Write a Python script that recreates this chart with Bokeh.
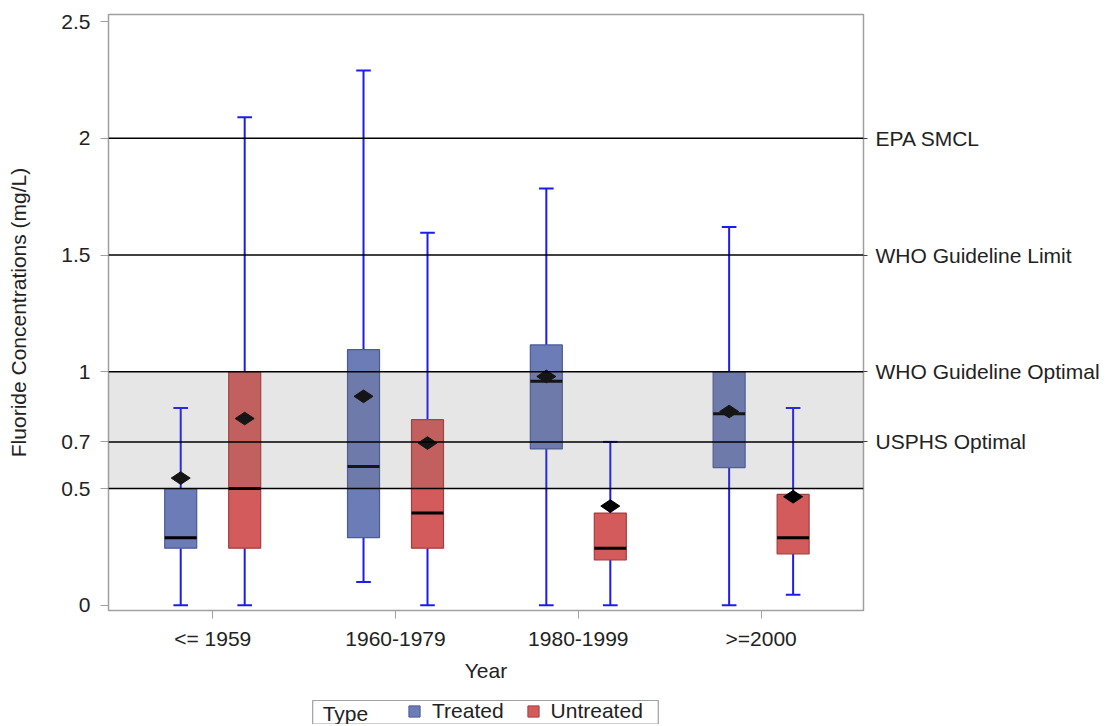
from bokeh.plotting import figure
from bokeh.layouts import column
from bokeh.models import (FixedTicker, LinearAxis, Range1d, Span, BoxAnnotation,
                          Legend, LegendItem)
from bokeh.core.properties import value
from bokeh.embed import file_html
from bokeh.resources import INLINE

categories = ["<= 1959", "1960-1979", "1980-1999", ">=2000"]

treated_min = [0.0, 0.10, 0.0, 0.0]
treated_q1 = [0.245, 0.29, 0.67, 0.59]
treated_median = [0.29, 0.595, 0.96, 0.82]
treated_q3 = [0.50, 1.095, 1.115, 1.0]
treated_max = [0.845, 2.29, 1.785, 1.62]
treated_mean = [0.545, 0.895, 0.98, 0.83]

untreated_min = [0.0, 0.0, 0.0, 0.045]
untreated_q1 = [0.245, 0.245, 0.195, 0.22]
untreated_median = [0.50, 0.395, 0.245, 0.29]
untreated_q3 = [1.0, 0.795, 0.395, 0.475]
untreated_max = [2.09, 1.595, 0.70, 0.845]
untreated_mean = [0.80, 0.695, 0.425, 0.465]

ref_values = [2.0, 1.5, 1.0, 0.7]
ref_labels = ["EPA SMCL", "WHO Guideline Limit", "WHO Guideline Optimal", "USPHS Optimal"]
y_ticks = [0, 0.5, 0.7, 1, 1.5, 2, 2.5]
y_tick_labels = ["0", "0.5", "0.7", "1", "1.5", "2", "2.5"]
legend_title = "Type"
legend_labels = ["Treated", "Untreated"]

FONT = "Liberation Sans"
FS = "21px"
OFFSET = 0.175
BOX_W = 0.175
CAP_W = 0.08
TREATED_FILL, TREATED_EDGE = "#6c7cb6", "#4a5a98"
UNTREATED_FILL, UNTREATED_EDGE = "#d45b5b", "#a53d3d"

p = figure(frame_width=755, frame_height=596, min_border_left=108, min_border_top=14,
           min_border_right=240, min_border_bottom=78,
           x_range=Range1d(-0.57, 3.56), y_range=Range1d(-0.022, 2.53),
           output_backend="svg", toolbar_location=None, tools="")
p.background_fill_color = "white"
p.border_fill_color = "white"
p.outline_line_color = "#a0a0a0"
p.outline_line_width = 1.5
p.xgrid.visible = False
p.ygrid.visible = False

# axes
xa = p.xaxis[0]
xa.ticker = FixedTicker(ticks=list(range(len(categories))))
xa.major_label_overrides = {i: c for i, c in enumerate(categories)}
xa.axis_label = "Year"
ya = p.yaxis[0]
ya.ticker = FixedTicker(ticks=y_ticks)
ya.major_label_overrides = {t: l for t, l in zip(y_ticks, y_tick_labels)}
ya.axis_label = "Fluoride Concentrations (mg/L)"
for ax in (xa, ya):
    ax.axis_line_color = "#a0a0a0"
    ax.major_tick_line_color = "#a0a0a0"
    ax.major_tick_in = 0
    ax.major_tick_out = 8
    ax.minor_tick_line_color = None
    ax.major_label_text_font = FONT
    ax.major_label_text_font_size = FS
    ax.major_label_text_color = "#222222"
    ax.axis_label_text_font = FONT
    ax.axis_label_text_font_size = FS
    ax.axis_label_text_font_style = "normal"
    ax.axis_label_text_color = "#222222"
xa.major_label_standoff = 8
xa.axis_label_standoff = 6
ya.major_label_standoff = 10
ya.axis_label_standoff = 28

ra = LinearAxis(ticker=FixedTicker(ticks=ref_values),
                major_label_overrides={v: l for v, l in zip(ref_values, ref_labels)})
ra.axis_line_color = None
ra.major_tick_line_color = "#404040"
ra.major_tick_in = 0
ra.major_tick_out = 4
ra.minor_tick_line_color = None
ra.major_label_standoff = 8
ra.major_label_text_font = FONT
ra.major_label_text_font_size = FS
ra.major_label_text_color = "#222222"
p.add_layout(ra, "right")

# boxes
tx = [i - OFFSET for i in range(len(categories))]
ux = [i + OFFSET for i in range(len(categories))]

series = [
    (tx, treated_min, treated_q1, treated_median, treated_q3, treated_max, treated_mean,
     TREATED_FILL, TREATED_EDGE),
    (ux, untreated_min, untreated_q1, untreated_median, untreated_q3, untreated_max, untreated_mean,
     UNTREATED_FILL, UNTREATED_EDGE),
]
for xs, mn, q1, med, q3, mx, mean, fill, edge in series:
    p.segment(x0=xs, x1=xs, y0=q3, y1=mx, line_color="#1c1cf0", line_width=2)
    p.segment(x0=xs, x1=xs, y0=mn, y1=q1, line_color="#1c1cf0", line_width=2)
    p.segment(x0=[x - CAP_W / 2 for x in xs], x1=[x + CAP_W / 2 for x in xs], y0=mx, y1=mx,
              line_color="#1c1cf0", line_width=2)
    p.segment(x0=[x - CAP_W / 2 for x in xs], x1=[x + CAP_W / 2 for x in xs], y0=mn, y1=mn,
              line_color="#1c1cf0", line_width=2)
    p.vbar(x=xs, width=BOX_W, bottom=q1, top=q3, fill_color=fill, line_color=edge,
           line_width=1.2)
    p.segment(x0=[x - BOX_W / 2 for x in xs], x1=[x + BOX_W / 2 for x in xs], y0=med, y1=med,
              line_color="black", line_width=3)
    p.scatter(x=xs, y=mean, marker="diamond", angle=1.5708, size=19, fill_color="black",
              line_color="black")

band = BoxAnnotation(bottom=0.5, top=1.0, fill_color="#767676", fill_alpha=0.18,
                     line_alpha=0, level="annotation")
p.add_layout(band)
for v in [0.5, 0.7, 1.0, 1.5, 2.0]:
    p.add_layout(Span(location=v, dimension="width", line_color="black", line_width=1.5))

# legend strip below the chart (its frame is aligned with the chart frame: x 108..863 px)
lg = figure(width=1100, height=36, min_border_left=0, min_border_right=0,
            min_border_top=0, min_border_bottom=0,
            x_range=Range1d(108, 863), y_range=Range1d(0, 36),
            output_backend="svg", toolbar_location=None, tools="")
lg.axis.visible = False
lg.grid.visible = False
lg.outline_line_color = None
lg.background_fill_color = "white"
lg.border_fill_color = "white"
lg.quad(left=[313], right=[660], bottom=[0.5], top=[24], fill_color=None,
        line_color="#a0a0a0", line_width=1.2)
lg.text(x=[323], y=[11], text=[legend_title], text_font=value(FONT), text_font_size=FS,
        text_color="#222222", text_baseline="middle", text_align="left")
nan = float("nan")
rt = lg.vbar(x=[nan], width=1, bottom=[0], top=[1], fill_color=TREATED_FILL,
             line_color=TREATED_EDGE)
ru = lg.vbar(x=[nan], width=1, bottom=[0], top=[1], fill_color=UNTREATED_FILL,
             line_color=UNTREATED_EDGE)
legend = Legend(items=[LegendItem(label=legend_labels[0], renderers=[rt]),
                       LegendItem(label=legend_labels[1], renderers=[ru])],
                orientation="horizontal", location=(407 - 108, 1))
legend.label_text_font = FONT
legend.label_text_font_size = FS
legend.label_text_color = "#222222"
legend.glyph_width = 14
legend.glyph_height = 14
legend.label_standoff = 11
legend.spacing = 22
legend.padding = 0
legend.margin = 0
legend.border_line_color = None
legend.background_fill_alpha = 0
legend.label_height = 20
lg.add_layout(legend)

layout = column(p, lg, spacing=0)
open("out.html", "w").write(file_html(layout, INLINE))
